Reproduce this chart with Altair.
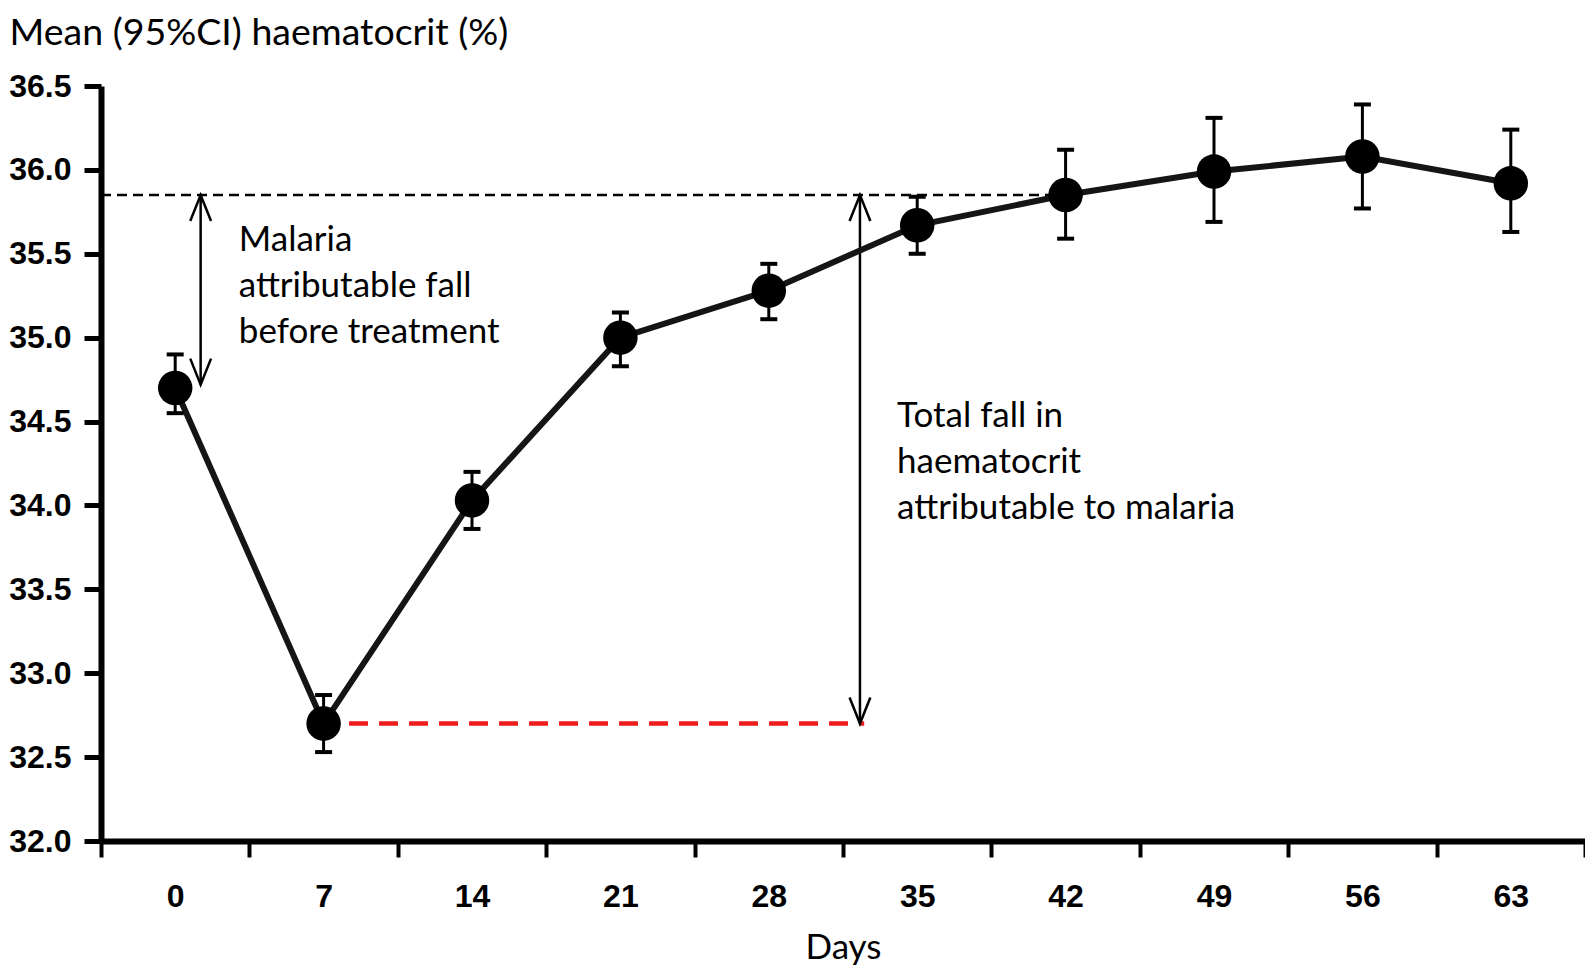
import altair as alt
import pandas as pd

# ---- data ----
days = [0, 7, 14, 21, 28, 35, 42, 49, 56, 63]
mean_hct = [34.70, 32.70, 34.03, 35.00, 35.28, 35.67, 35.85, 35.99, 36.08, 35.92]
ci_low = [34.55, 32.53, 33.86, 34.83, 35.11, 35.50, 35.59, 35.69, 35.77, 35.63]
ci_high = [34.90, 32.87, 34.20, 35.15, 35.44, 35.84, 36.12, 36.31, 36.39, 36.24]

y_ticks = [32.0, 32.5, 33.0, 33.5, 34.0, 34.5, 35.0, 35.5, 36.0, 36.5]
x_ticks = [-3.5, 0, 3.5, 7, 10.5, 14, 17.5, 21, 24.5, 28, 31.5, 35, 38.5, 42,
           45.5, 49, 52.5, 56, 59.5, 63, 66.5]
x_domain = [-3.5, 66.5]
y_domain = [32.0, 36.5]

# reference levels
baseline_level = 35.85
nadir_level = 32.70
baseline_span = [-3.5, 42.0]
nadir_span = [8.2, 32.5]

# arrows (x position, top, bottom)
arrow_x = [1.2, 32.3]
arrow_top = [35.85, 35.85]
arrow_bottom = [34.72, 32.70]

# annotations
ann_text = ["Malaria\nattributable fall\nbefore treatment",
            "Total fall in\nhaematocrit\nattributable to malaria"]
ann_x = [3.0, 34.05]
ann_y = [35.515, 34.47]

TITLE_FONT = "Lato"
TICK_FONT = "Liberation Sans"

df = pd.DataFrame({"day": days, "mean": mean_hct, "lo": ci_low, "hi": ci_high})
base_df = pd.DataFrame({"x": [baseline_span[0]], "x2": [baseline_span[1]], "y": [baseline_level]})
nadir_df = pd.DataFrame({"x": [nadir_span[0]], "x2": [nadir_span[1]], "y": [nadir_level]})
arrow_df = pd.DataFrame({"x": arrow_x, "top": arrow_top, "bottom": arrow_bottom})
ann_df = pd.DataFrame({"x": ann_x, "y": ann_y, "text": ann_text})

xscale = alt.Scale(domain=x_domain, nice=False, zero=False)
yscale = alt.Scale(domain=y_domain, nice=False, zero=False)

x_axis = alt.Axis(
    values=x_ticks,
    labelExpr="datum.value % 7 === 0 ? format(datum.value, 'd') : ''",
    tickOpacity={"condition": {"test": "datum.value % 7 === 0", "value": 0}, "value": 1},
    labelOverlap=False,
    labelFont=TICK_FONT, labelFontSize=32, labelFontWeight="bold", labelColor="black",
    labelPadding=24,
    tickSize=16, tickWidth=4, tickColor="black",
    domainWidth=6, domainColor="black",
    grid=False,
    title="Days", titleFont=TITLE_FONT, titleFontSize=35, titleFontWeight="normal",
    titleColor="black", titleY=117, titleBaseline="alphabetic",
)
y_axis = alt.Axis(
    values=y_ticks, format=".1f",
    labelFont=TICK_FONT, labelFontSize=32, labelFontWeight="bold", labelColor="black",
    labelPadding=13,
    tickSize=17, tickWidth=5, tickColor="black",
    domainWidth=6, domainColor="black",
    grid=False,
    title="Mean (95%CI) haematocrit (%)", titleFont=TITLE_FONT, titleFontSize=37.5,
    titleFontWeight="normal", titleColor="black", titleAngle=0, titleAlign="left",
    titleX=-92, titleY=-42, titleBaseline="alphabetic",
)

axes = alt.Chart(df).mark_line(opacity=0).encode(
    x=alt.X("day:Q", scale=xscale, axis=x_axis),
    y=alt.Y("mean:Q", scale=yscale, axis=y_axis),
)

base_line = alt.Chart(base_df).mark_rule(color="black", strokeWidth=2.5, strokeDash=[10, 6]).encode(
    x=alt.X("x:Q", scale=xscale), x2="x2:Q", y=alt.Y("y:Q", scale=yscale)
)
nadir_line = alt.Chart(nadir_df).mark_rule(color="#ee1c1c", strokeWidth=4.5, strokeDash=[19, 11]).encode(
    x=alt.X("x:Q", scale=xscale), x2="x2:Q", y=alt.Y("y:Q", scale=yscale)
)

arrow_shaft = alt.Chart(arrow_df).mark_rule(color="black", strokeWidth=2.5).encode(
    x=alt.X("x:Q", scale=xscale), y=alt.Y("top:Q", scale=yscale), y2="bottom:Q"
)
arrow_up = alt.Chart(arrow_df).mark_point(
    shape="M-0.4,1L0,0L0.4,1", filled=False, size=2704, color="black", strokeWidth=2.5, opacity=1
).encode(x=alt.X("x:Q", scale=xscale), y=alt.Y("top:Q", scale=yscale))
arrow_down = alt.Chart(arrow_df).mark_point(
    shape="M-0.4,-1L0,0L0.4,-1", filled=False, size=2704, color="black", strokeWidth=2.5, opacity=1
).encode(x=alt.X("x:Q", scale=xscale), y=alt.Y("bottom:Q", scale=yscale))

line = alt.Chart(df).mark_line(color="#151515", strokeWidth=6).encode(
    x=alt.X("day:Q", scale=xscale), y=alt.Y("mean:Q", scale=yscale)
)
err = alt.Chart(df).mark_rule(color="black", strokeWidth=3).encode(
    x=alt.X("day:Q", scale=xscale), y=alt.Y("lo:Q", scale=yscale), y2="hi:Q"
)
cap_lo = alt.Chart(df).mark_tick(orient="horizontal", color="black", size=17, thickness=4, opacity=1).encode(
    x=alt.X("day:Q", scale=xscale), y=alt.Y("lo:Q", scale=yscale)
)
cap_hi = alt.Chart(df).mark_tick(orient="horizontal", color="black", size=17, thickness=4, opacity=1).encode(
    x=alt.X("day:Q", scale=xscale), y=alt.Y("hi:Q", scale=yscale)
)
pts = alt.Chart(df).mark_circle(color="black", size=1190, opacity=1).encode(
    x=alt.X("day:Q", scale=xscale), y=alt.Y("mean:Q", scale=yscale)
)

ann = alt.Chart(ann_df).mark_text(
    align="left", baseline="alphabetic", font=TITLE_FONT, fontSize=35, lineHeight=46,
    lineBreak="\n", color="black"
).encode(x=alt.X("x:Q", scale=xscale), y=alt.Y("y:Q", scale=yscale), text="text:N")

chart = alt.layer(
    axes, base_line, nadir_line, arrow_shaft, arrow_up, arrow_down,
    line, err, cap_lo, cap_hi, pts, ann
).properties(
    width=1484, height=755,
    autosize=alt.AutoSizeParams(type="none"),
    padding={"left": 93, "top": 78, "right": 0, "bottom": 125},
    view=alt.ViewBackground(stroke="transparent", strokeWidth=0),
).configure_view(stroke="transparent", strokeWidth=0).configure(background="white")

chart.save("out.html", embed_options={"renderer": "svg", "actions": False})
